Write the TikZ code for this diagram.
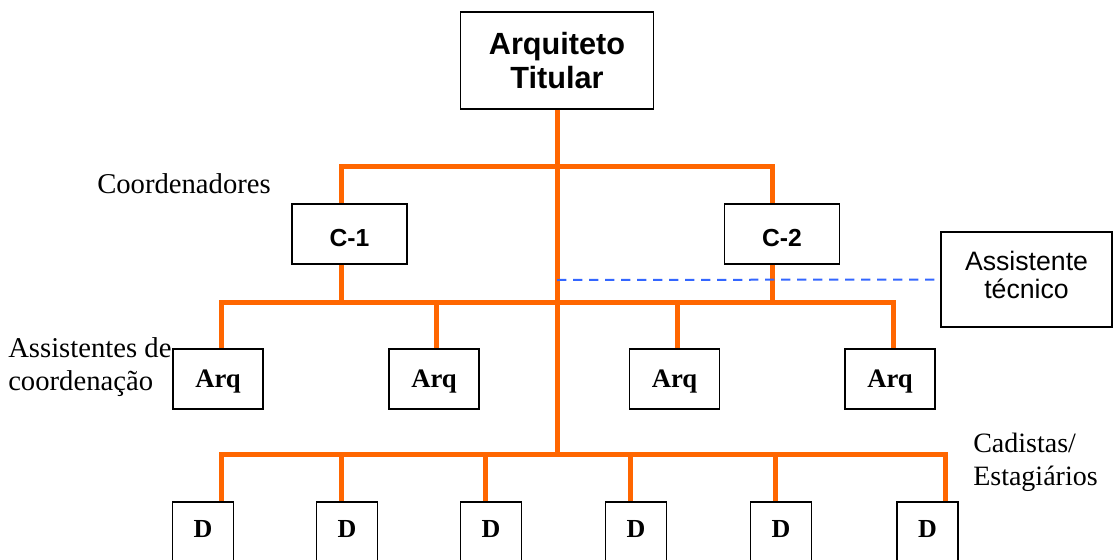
\documentclass[tikz,border=0pt]{standalone}
\usepackage{fontspec}
\setmainfont{Liberation Serif}
\setsansfont{Liberation Sans}
\definecolor{linkorange}{HTML}{FF6600}
\definecolor{techblue}{HTML}{3366FF}
\tikzset{
  box/.style={draw,line width=1.2pt,inner sep=0pt,align=center},
  headbox/.style={box,minimum width=144.75pt,minimum height=72.75pt,
    font=\sffamily\bfseries\fontsize{23}{26}\selectfont},
  coordbox/.style={box,minimum width=86.25pt,minimum height=45pt,
    text height=18.4pt,text depth=0pt,
    font=\sffamily\bfseries\fontsize{18.5}{21}\selectfont},
  techbox/.style={box,minimum width=128.25pt,minimum height=71.25pt,
    text depth=7.5pt,
    font=\sffamily\fontsize{20}{21}\selectfont},
  arqbox/.style={box,minimum width=67.5pt,minimum height=45pt,
    text depth=0pt,
    font=\bfseries\fontsize{20}{23}\selectfont},
  dbox/.style={box,minimum width=45.75pt,minimum height=48pt,
    text depth=7.5pt,
    font=\bfseries\fontsize{19.5}{22}\selectfont},
  tag/.style={inner sep=0pt,anchor=north west,align=left,
    font=\fontsize{21.5}{24.75}\selectfont},
  link/.style={draw=linkorange,line width=3.75pt},
  techlink/.style={draw=techblue,line width=1.5pt,dash pattern=on 7pt off 5pt}
}
\begin{document}
\begin{tikzpicture}[x=0.75pt,y=-0.75pt]
  \clip (0,0) rectangle (1113,560);
  % boxes
  \node[headbox] (titular) at (557,60.5) {Arquiteto\\Titular};
  \node[coordbox] (c1) at (349.5,234) {C-1};
  \node[coordbox] (c2) at (782,234) {C-2};
  \node[techbox] (tecnico) at (1026.5,279.5) {Assistente\\técnico};
  \foreach \i/\x in {1/218,2/434,3/674.5,4/890}
    \node[arqbox] (arq\i) at (\x,379) {Arq};
  \foreach \i/\x in {1/203,2/347,3/491,4/636,5/781,6/927.5}
    \node[dbox] (d\i) at (\x,534) {D};
  % labels
  \node[tag] (coordlbl) at (97,173.5) {Coordenadores};
  \node[tag] (assistlbl) at (8,337) {Assistentes de\\coordenação};
  \node[tag,font=\fontsize{21}{24.75}\selectfont] (cadlbl) at (973,432.5) {Cadistas/\\Estagiários};
  % junctions
  \coordinate (top) at (557,166);
  \coordinate (bot) at (557,454);
  \coordinate (tech) at (557,280);
  \coordinate (k1) at (341,166);
  \coordinate (k2) at (772,166);
  \foreach \i/\x in {1/221,2/436,3/677,4/893}
    \coordinate (a\i) at (\x,302);
  \foreach \i/\x in {1/221,2/341,3/485,4/630,5/775,6/945}
    \coordinate (b\i) at (\x,454);
  % connectors
  \begin{scope}[line join=miter]
    \draw[link] (titular.south) -- (bot);
    \draw[link] (k1 |- c1.north) -- (k1) -- (k2) -- (k2 |- c2.north);
    \draw[link] (k1 |- c1.south) -- (k1 |- a1);
    \draw[link] (k2 |- c2.south) -- (k2 |- a1);
    \draw[link] (a1 |- arq1.north) -- (a1) -- (a4) -- (a4 |- arq4.north);
    \draw[link] (a2) -- (a2 |- arq2.north);
    \draw[link] (a3) -- (a3 |- arq3.north);
    \draw[link] (b1 |- d1.north) -- (b1) -- (b6) -- (b6 |- d6.north);
    \foreach \i in {2,...,5}
      \draw[link] (b\i) -- (b\i |- d\i.north);
    \draw[techlink] (tech) -- (tecnico.west);
  \end{scope}
\end{tikzpicture}
\end{document}
